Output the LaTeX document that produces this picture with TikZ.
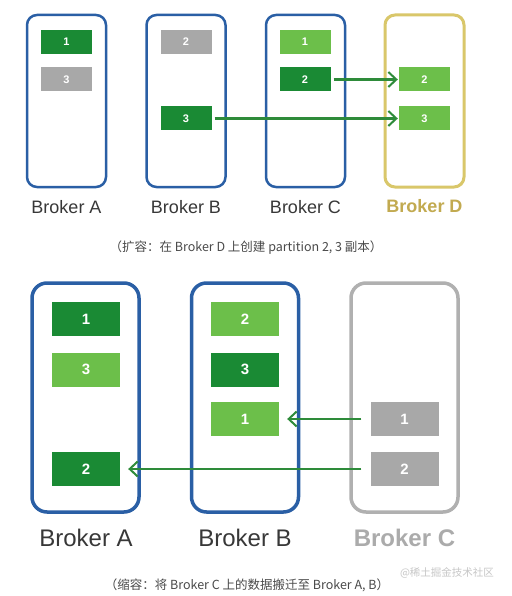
\documentclass[tikz,border=0pt]{standalone}
\usepackage{fontspec}
\setmainfont{Liberation Sans}
\newfontfamily\cjkfont{Noto Sans CJK SC}
\usetikzlibrary{arrows.meta}
\definecolor{dkgreen}{HTML}{1A8A34}
\definecolor{ltgreen}{HTML}{6CBF4A}
\definecolor{pgrey}{HTML}{A8A8A8}
\definecolor{bblue}{HTML}{2A5FA5}
\definecolor{byellow}{HTML}{D9C76A}
\definecolor{tyellow}{HTML}{C2AA50}
\definecolor{bgrey}{HTML}{B0B0B0}
\definecolor{tgrey}{HTML}{ABABAB}
\definecolor{arrgreen}{HTML}{2E8B3A}
\definecolor{labtext}{HTML}{383838}
\definecolor{captext}{HTML}{4A4A4A}
\tikzset{
  brokerbox/.style={draw=bblue, line width=2.5pt, rounded corners=10pt, minimum width=79pt, minimum height=172pt, inner sep=0pt},
  bigbox/.style={draw=bblue, line width=3.5pt, rounded corners=15pt, minimum width=107pt, minimum height=229pt, inner sep=0pt},
  part/.style={minimum width=51pt, minimum height=24pt, inner sep=0pt, text=white, font=\fontsize{11}{11}\selectfont\bfseries},
  bigpart/.style={minimum width=68pt, minimum height=34pt, inner sep=0pt, text=white, font=\fontsize{15}{15}\selectfont\bfseries},
  dk/.style={fill=dkgreen},
  lt/.style={fill=ltgreen},
  gr/.style={fill=pgrey},
  lab/.style={text=labtext, font=\fontsize{18}{18}\selectfont},
  biglab/.style={text=labtext, font=\fontsize{24}{24}\selectfont},
  captionstyle/.style={text=captext, font=\cjkfont\fontsize{12.5}{12.5}\selectfont},
  mv/.style={draw=arrgreen, line width=2.6pt, -{Straight Barb[length=8pt,width=15pt,line width=2pt]}},
}
\begin{document}
\begin{tikzpicture}[x=1pt,y=-1pt]
\useasboundingbox[fill=white] (0,0) rectangle (511,596);
% ---------- top panel ----------
\node[brokerbox] (bA) at (66.5,101) {};
\node[brokerbox] (bB) at (186,101) {};
\node[brokerbox] (bC) at (305.5,101) {};
\node[brokerbox, draw=byellow, line width=3pt] (bD) at (424.5,101) {};
\node[part,dk] (a1) at (66.5,42) {1};
\node[part,gr] (a3) at (66.5,79.5) {3};
\node[part,gr] (b2) at (186,42) {2};
\node[part,dk] (b3) at (186,118.5) {3};
\node[part,lt] (c1) at (305,42) {1};
\node[part,dk] (c2) at (305,79.5) {2};
\node[part,lt] (d2) at (424.5,79.5) {2};
\node[part,lt] (d3) at (424.5,118.5) {3};
\draw[mv, shorten <=3pt, shorten >=1pt] (c2.east) -- (d2.west);
\draw[mv, shorten <=3pt, shorten >=1pt] (b3.east) -- (d3.west);
\node[lab] (lA) at (66.5,207) {Broker A};
\node[lab] (lB) at (186,207) {Broker B};
\node[lab] (lC) at (305.5,207) {Broker C};
\node[lab, text=tyellow, font=\fontsize{18}{18}\selectfont\bfseries] (lD) at (424.5,206) {Broker D};
\node[captionstyle] (cap1) at (246,248) {（扩容：在 Broker D 上创建 partition 2, 3 副本）};
% ---------- bottom panel ----------
\node[bigbox] (BA) at (85.5,397.5) {};
\node[bigbox] (BB) at (245,397.5) {};
\node[bigbox, draw=bgrey] (BC) at (404.5,397.5) {};
\node[bigpart,dk] (A1) at (86,319) {1};
\node[bigpart,lt] (A3) at (86,369.5) {3};
\node[bigpart,dk] (A2) at (86,469) {2};
\node[bigpart,lt] (B2) at (245,319) {2};
\node[bigpart,dk] (B3) at (245,369.5) {3};
\node[bigpart,lt] (B1) at (245,419) {1};
\node[bigpart,gr] (C1) at (404.5,419) {1};
\node[bigpart,gr] (C2) at (404.5,469) {2};
\draw[mv, shorten <=9pt, shorten >=8pt] (C1.west) -- (B1.east);
\draw[mv, shorten <=9pt, shorten >=8pt] (C2.west) -- (A2.east);
\node[biglab] (LA) at (86,538) {Broker A};
\node[biglab] (LB) at (245,538) {Broker B};
\node[biglab, text=tgrey, font=\fontsize{24}{24}\selectfont\bfseries] (LC) at (404.5,538) {Broker C};
\node[captionstyle] (cap2) at (247,585) {（缩容：将 Broker C 上的数据搬迁至 Broker A, B）};
\node[text=black!22, font=\cjkfont\fontsize{10.5}{10.5}\selectfont] (wm) at (447,573) {@稀土掘金技术社区};
\end{tikzpicture}
\end{document}
